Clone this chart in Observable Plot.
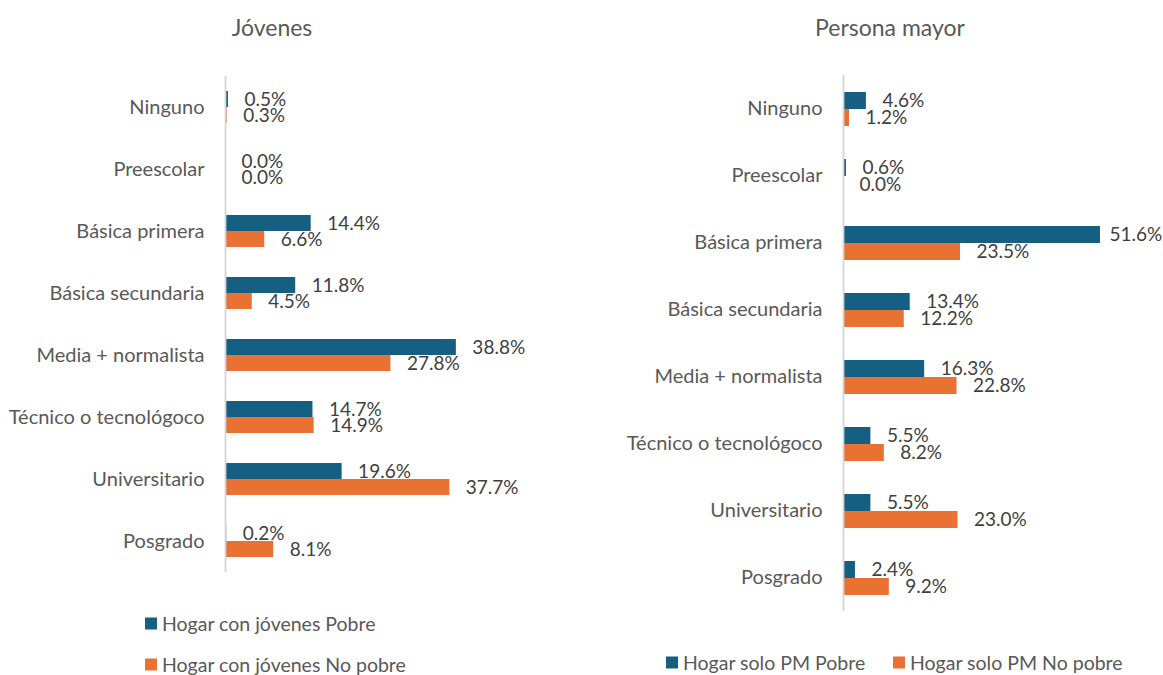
<!DOCTYPE html>
<html>
<head>
<meta charset="utf-8">
<script src="https://cdn.jsdelivr.net/npm/d3@7"></script>
<script src="https://cdn.jsdelivr.net/npm/@observablehq/plot@0.6"></script>
<style>
  html, body { margin: 0; padding: 0; background: #fff; }
  #root { position: relative; width: 1163px; height: 675px; overflow: hidden; font-family: Lato, "Open Sans", sans-serif; color: #595959; }
  .panel { position: absolute; top: 0; }
  .title { position: absolute; font-size: 23px; color: #595959; transform: translate(-50%, -50%); white-space: nowrap; }
  .leg { position: absolute; font-size: 19.5px; color: #595959; white-space: nowrap; display: flex; align-items: center; transform: translateY(-50%); }
  .sw { display: inline-block; width: 12px; height: 12px; margin-right: 5px; }
</style>
</head>
<body>
<div id="root"></div>
<script>
const categories = ["Ninguno","Preescolar","Básica primera","Básica secundaria","Media + normalista","Técnico o tecnológoco","Universitario","Posgrado"];
const jovPobre   = [0.5, 0.0, 14.4, 11.8, 38.8, 14.7, 19.6, 0.2];
const jovNoPobre = [0.3, 0.0, 6.6, 4.5, 27.8, 14.9, 37.7, 8.1];
const pmPobre    = [4.6, 0.6, 51.6, 13.4, 16.3, 5.5, 5.5, 2.4];
const pmNoPobre  = [1.2, 0.0, 23.5, 12.2, 22.8, 8.2, 23.0, 9.2];
const seriesKeys = ["Pobre", "No pobre"];
const colors = ["#156082", "#E97132"];
const legendJov = ["Hogar con jóvenes Pobre", "Hogar con jóvenes No pobre"];
const legendPM = ["Hogar solo PM Pobre", "Hogar solo PM No pobre"];

function rows(a, b) {
  const out = [];
  categories.forEach((c, i) => {
    out.push({cat: c, series: seriesKeys[0], value: a[i]});
    out.push({cat: c, series: seriesKeys[1], value: b[i]});
  });
  return out;
}

function panel(data, opts) {
  const fmt = d => d.value.toFixed(1) + "%";
  return Plot.plot({
    width: opts.width,
    height: opts.height,
    marginLeft: opts.marginLeft,
    marginRight: opts.marginRight,
    marginTop: opts.marginTop,
    marginBottom: opts.marginBottom,
    style: {fontFamily: "Lato, 'Open Sans', sans-serif", fontSize: "19px", color: "#595959", background: "transparent", overflow: "visible"},
    x: {domain: opts.xDomain, axis: null},
    y: {domain: seriesKeys, paddingInner: 0, paddingOuter: opts.padOuter, axis: null},
    fy: {domain: categories, padding: 0, label: null},
    color: {domain: seriesKeys, range: colors},
    marks: [
      Plot.axisFy({anchor: "left", tickSize: 0, tickPadding: 21, label: null, fontSize: 20}),
      Plot.barX(data, {x: "value", y: "series", fy: "cat", fill: "series"}),
      Plot.ruleX([0], {stroke: "#d4d4d4", strokeWidth: 1.8}),
      Plot.text(data.filter(d => d.value <= 50), {x: "value", y: "series", fy: "cat", text: fmt, textAnchor: "start", dx: 16, fill: "#404040", fontSize: 19}),
      Plot.text(data.filter(d => d.value > 50), {x: "value", y: "series", fy: "cat", text: fmt, textAnchor: "start", dx: 9, fill: "#404040", fontSize: 19})
    ]
  });
}

const root = document.getElementById("root");

const left = panel(rows(jovPobre, jovNoPobre), {width: 580, height: 600, marginLeft: 225, marginRight: 57.5, marginTop: 73, marginBottom: 25, xDomain: [0, 50], padOuter: 0.92});
left.classList.add("panel"); left.style.left = "0px";
root.appendChild(left);

const right = panel(rows(pmPobre, pmNoPobre), {width: 583, height: 640, marginLeft: 263, marginRight: 21.2, marginTop: 73, marginBottom: 28, xDomain: [0, 60], padOuter: 0.945});
right.classList.add("panel"); right.style.left = "580px";
root.appendChild(right);

function addTitle(text, x, y) {
  const d = document.createElement("div");
  d.className = "title"; d.textContent = text;
  d.style.left = x + "px"; d.style.top = y + "px";
  root.appendChild(d);
}
addTitle("Jóvenes", 272, 27);
addTitle("Persona mayor", 890, 27);

function addLegend(text, color, x, y) {
  const d = document.createElement("div");
  d.className = "leg";
  d.style.left = x + "px"; d.style.top = y + "px";
  const s = document.createElement("span");
  s.className = "sw"; s.style.background = color;
  d.appendChild(s);
  d.appendChild(document.createTextNode(text));
  root.appendChild(d);
}
addLegend(legendJov[0], colors[0], 145, 623);
addLegend(legendJov[1], colors[1], 145, 664);
addLegend(legendPM[0], colors[0], 666, 662);
addLegend(legendPM[1], colors[1], 893, 662);
</script>
</body>
</html>
